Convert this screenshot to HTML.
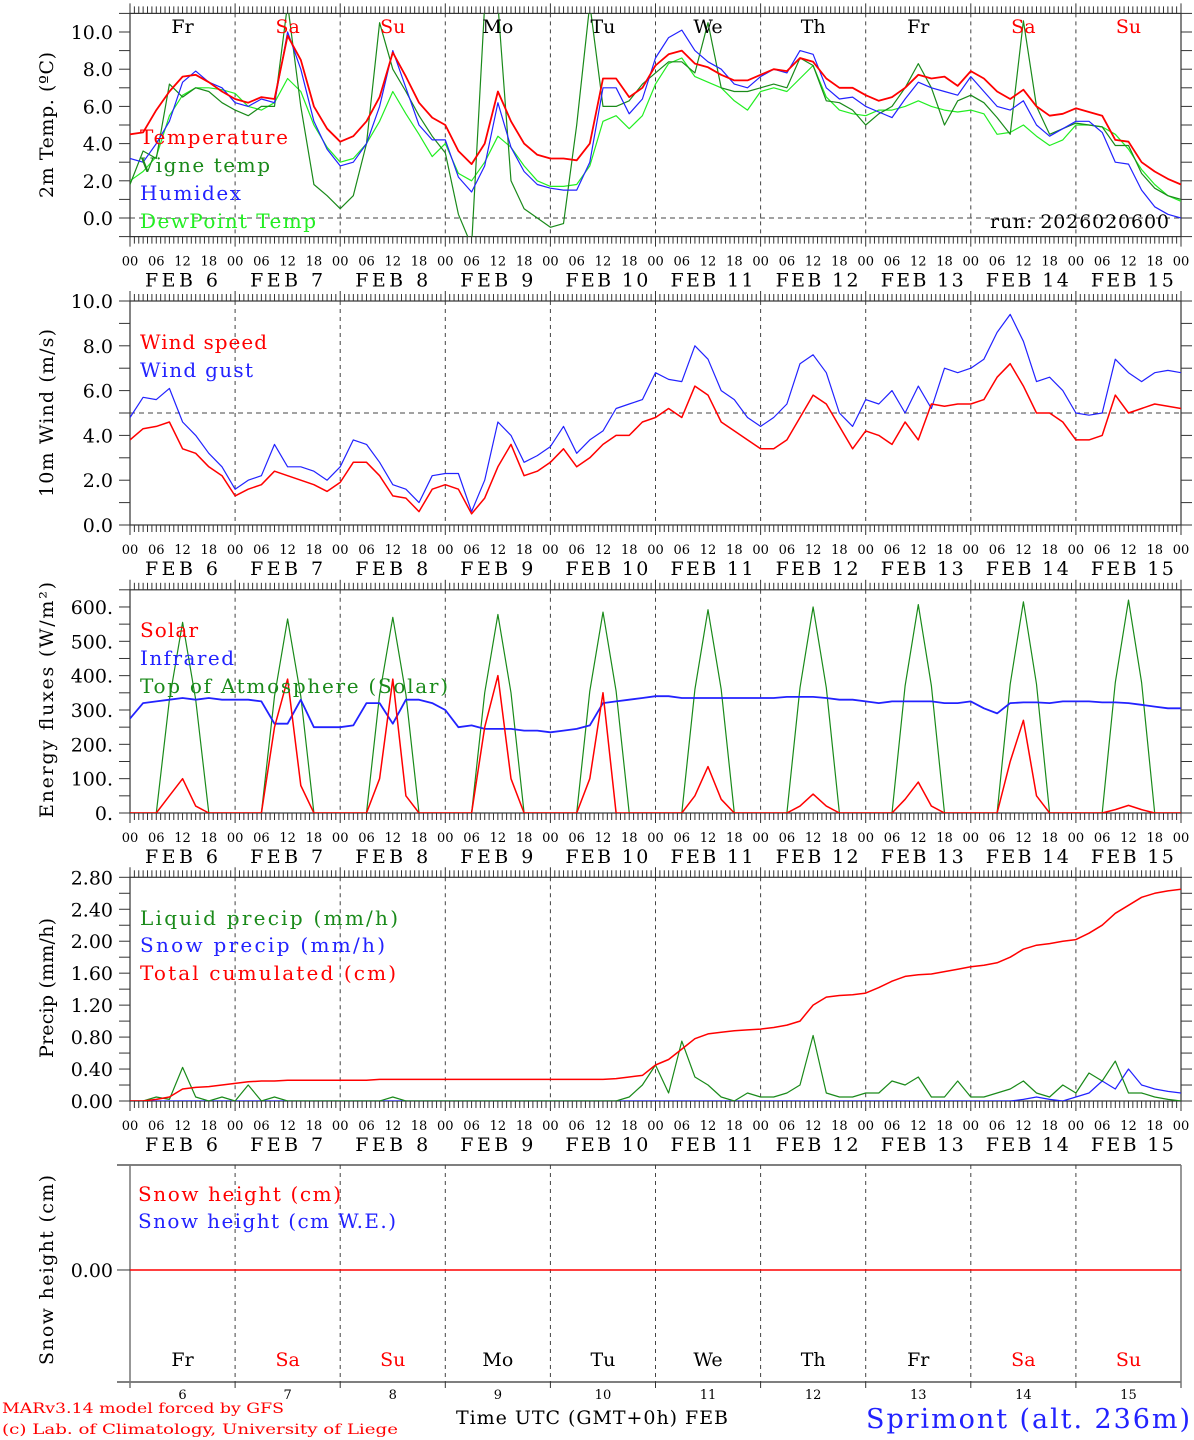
<!DOCTYPE html>
<html><head><meta charset="utf-8"><title>MAR forecast Sprimont</title>
<style>
html,body{margin:0;padding:0;background:#fff;}
svg{display:block;font-family:"DejaVu Serif","Liberation Serif",serif;}
</style></head>
<body>
<svg id="chart" width="1194" height="1440" viewBox="0 0 1194 1440" xmlns="http://www.w3.org/2000/svg">
<rect x="0" y="0" width="1194" height="1440" fill="#fff"/>
<g id="layer"></g>
<text x="990" y="228" font-size="19" textLength="179" lengthAdjust="spacing" fill="#000">run: 2026020600</text>
<text x="2" y="1413" font-size="14" fill="#f00" textLength="282" lengthAdjust="spacingAndGlyphs">MARv3.14 model forced by GFS</text>
<text x="2" y="1434" font-size="14" fill="#f00" textLength="396" lengthAdjust="spacingAndGlyphs">(c) Lab. of Climatology, University of Liege</text>
<text x="456" y="1424" font-size="19" fill="#000" textLength="272" lengthAdjust="spacing">Time UTC (GMT+0h) FEB</text>
<text x="866" y="1428" font-size="27" fill="#22f" textLength="324" lengthAdjust="spacing">Sprimont (alt. 236m)</text>
</svg>
<script>
// ---------- data (3-hourly, 6 Feb 00 UTC -> 16 Feb 00 UTC) ----------
const days = ["6","7","8","9","10","11","12","13","14","15"];
const dayNames = ["Fr","Sa","Su","Mo","Tu","We","Th","Fr","Sa","Su"];
const hourLabels = ["00","06","12","18"];
const tempTicks = [0,2,4,6,8,10];
const windTicks = [0,2,4,6,8,10];
const energyTicks = [0,100,200,300,400,500,600];
const precipTicks = [0,0.4,0.8,1.2,1.6,2.0,2.4,2.8];

const temperature = [4.5,4.6,5.8,6.8,7.6,7.7,7.3,6.8,
6.4,6.2,6.5,6.4,9.8,8.5,6.0,4.8,
4.1,4.4,5.2,6.5,8.9,7.6,6.2,5.4,
5.0,3.6,2.9,4.0,6.8,5.2,4.0,3.4,
3.2,3.2,3.1,4.0,7.5,7.5,6.5,7.0,
8.2,8.8,9.0,8.3,8.1,7.7,7.4,7.4,
7.7,8.0,7.9,8.6,8.4,7.5,7.0,7.0,
6.6,6.3,6.5,7.0,7.7,7.5,7.6,7.1,
7.9,7.5,6.8,6.4,6.9,6.0,5.5,5.6,
5.9,5.7,5.5,4.2,4.1,3.0,2.5,2.1,1.8];
const vigneTemp = [1.8,3.6,3.2,7.2,6.5,7.0,6.8,6.2,
5.8,5.5,6.0,6.0,11.5,6.0,1.8,1.2,
0.5,1.2,4.0,10.5,8.0,6.8,5.5,4.4,
3.5,0.2,-1.5,11.5,11.5,2.0,0.5,0.0,
-0.5,-0.3,5.0,11.5,6.0,6.0,6.3,7.2,
7.8,8.4,8.4,7.8,10.5,7.0,6.8,6.8,
7.0,7.2,7.0,8.6,8.2,6.3,6.2,5.8,
5.0,5.6,6.0,7.0,8.3,7.0,5.0,6.3,
6.6,6.2,5.4,4.5,10.6,6.0,4.5,4.8,
5.1,5.0,4.9,3.9,3.9,2.4,1.6,1.2,1.0];
const humidex = [3.2,3.0,4.0,5.2,7.3,7.9,7.3,7.0,
6.2,6.0,6.4,6.2,10.0,8.0,5.2,3.7,
2.8,3.0,4.0,6.0,9.0,7.0,5.0,4.2,
4.2,2.2,1.4,2.8,6.2,3.8,2.5,1.8,
1.6,1.5,1.5,3.0,7.0,7.0,5.6,6.4,
8.6,9.7,10.1,9.0,8.4,8.0,7.2,7.0,
7.6,8.0,7.8,9.0,8.8,7.0,6.4,6.5,
6.0,5.7,5.4,6.4,7.3,7.0,6.8,6.6,
7.6,6.8,6.0,5.8,6.3,5.0,4.4,4.8,
5.2,5.2,4.6,3.0,2.9,1.5,0.6,0.2,0.0];
const dewPoint = [2.0,2.5,3.3,5.5,6.6,7.0,7.0,6.9,
6.7,6.0,5.8,6.2,7.5,6.8,5.0,3.8,
3.0,3.2,4.0,5.2,6.8,5.6,4.5,3.3,
4.0,2.4,2.0,3.0,4.4,3.8,2.8,2.0,
1.7,1.7,1.8,2.8,5.2,5.5,4.8,5.5,
7.2,8.3,8.6,7.6,7.3,7.0,6.3,5.8,
6.8,7.0,6.8,7.5,8.2,6.5,5.8,5.6,
5.5,5.8,5.8,6.0,6.3,6.0,5.8,5.7,
5.8,5.6,4.5,4.6,5.0,4.4,3.9,4.2,
5.0,5.0,4.9,4.5,3.7,2.6,1.8,1.2,0.9];

const windSpeed = [3.8,4.3,4.4,4.6,3.4,3.2,2.6,2.2,
1.3,1.6,1.8,2.4,2.2,2.0,1.8,1.5,
1.9,2.8,2.8,2.2,1.3,1.2,0.6,1.6,
1.8,1.6,0.5,1.2,2.6,3.6,2.2,2.4,
2.8,3.4,2.6,3.0,3.6,4.0,4.0,4.6,
4.8,5.2,4.8,6.2,5.8,4.6,4.2,3.8,
3.4,3.4,3.8,4.8,5.8,5.4,4.4,3.4,
4.2,4.0,3.6,4.6,3.8,5.4,5.3,5.4,
5.4,5.6,6.6,7.2,6.2,5.0,5.0,4.6,
3.8,3.8,4.0,5.8,5.0,5.2,5.4,5.3,5.2];
const windGust = [4.8,5.7,5.6,6.1,4.6,4.0,3.2,2.6,
1.6,2.0,2.2,3.6,2.6,2.6,2.4,2.0,
2.6,3.8,3.6,2.8,1.8,1.6,1.0,2.2,
2.3,2.3,0.6,2.0,4.6,4.0,2.8,3.1,
3.5,4.4,3.2,3.8,4.2,5.2,5.4,5.6,
6.8,6.5,6.4,8.0,7.4,6.0,5.6,4.8,
4.4,4.8,5.4,7.2,7.6,6.8,5.0,4.4,
5.6,5.4,6.0,5.0,6.2,5.2,7.0,6.8,
7.0,7.4,8.6,9.4,8.2,6.4,6.6,6.0,
5.0,4.9,5.0,7.4,6.8,6.4,6.8,6.9,6.8];

const solar = [0,0,0,50,100,20,0,0,
0,0,0,250,390,80,0,0,
0,0,0,100,390,50,0,0,
0,0,0,250,400,100,0,0,
0,0,0,100,350,0,0,0,
0,0,0,50,135,40,0,0,
0,0,0,20,55,20,0,0,
0,0,0,40,90,20,0,0,
0,0,0,150,270,50,0,0,
0,0,0,10,22,10,0,0,0];
const infrared = [275,320,325,330,335,330,335,330,
330,330,325,260,260,330,250,250,
250,255,320,320,260,330,330,320,
300,250,255,245,245,245,240,240,
235,240,245,255,320,325,330,335,
340,340,335,335,335,335,335,335,
335,335,338,338,338,335,330,330,
325,320,325,325,325,325,320,320,
325,305,290,320,322,322,320,325,
325,325,322,322,320,315,310,305,305];
const toaSolar = [0,0,0,330,555,330,0,0,
0,0,0,340,565,340,0,0,
0,0,0,345,570,345,0,0,
0,0,0,350,578,350,0,0,
0,0,0,355,585,355,0,0,
0,0,0,360,592,360,0,0,
0,0,0,365,600,365,0,0,
0,0,0,370,607,370,0,0,
0,0,0,375,615,375,0,0,
0,0,0,380,620,380,0,0,0];

const liquidPrecip = [0,0,0.05,0.02,0.42,0.05,0,0.05,
0,0.2,0,0.05,0,0,0,0,
0,0,0,0,0.05,0,0,0,
0,0,0,0,0,0,0,0,
0,0,0,0,0,0,0.05,0.2,
0.45,0.1,0.75,0.3,0.2,0.05,0,0.1,
0.05,0.05,0.1,0.2,0.82,0.1,0.05,0.05,
0.1,0.1,0.25,0.2,0.3,0.05,0.05,0.25,
0.05,0.05,0.1,0.15,0.25,0.1,0.05,0.2,
0.1,0.35,0.25,0.5,0.1,0.1,0.05,0.02,0];
const snowPrecip = [0,0,0,0,0,0,0,0,
0,0,0,0,0,0,0,0,
0,0,0,0,0,0,0,0,
0,0,0,0,0,0,0,0,
0,0,0,0,0,0,0,0,
0,0,0,0,0,0,0,0,
0,0,0,0,0,0,0,0,
0,0,0,0,0,0,0,0,
0,0,0,0,0.02,0.05,0.02,0,
0.05,0.1,0.25,0.15,0.4,0.2,0.15,0.12,0.1];
const totalCum = [0,0,0.02,0.05,0.15,0.17,0.18,0.2,
0.22,0.24,0.25,0.25,0.26,0.26,0.26,0.26,
0.26,0.26,0.26,0.27,0.27,0.27,0.27,0.27,
0.27,0.27,0.27,0.27,0.27,0.27,0.27,0.27,
0.27,0.27,0.27,0.27,0.27,0.28,0.3,0.32,
0.45,0.52,0.65,0.78,0.84,0.86,0.88,0.89,
0.9,0.92,0.95,1.0,1.2,1.3,1.32,1.33,
1.35,1.42,1.5,1.56,1.58,1.59,1.62,1.65,
1.68,1.7,1.73,1.8,1.9,1.95,1.97,2.0,
2.02,2.1,2.2,2.35,2.45,2.55,2.6,2.63,2.65];
const snowHeight = [0,0];

// ---------- geometry ----------
const NS = "http://www.w3.org/2000/svg";
const layer = document.getElementById("layer");
const X0 = 130, X1 = 1181, HOURS = 240;
function xOf(h){ return X0 + h * (X1 - X0) / HOURS; }
function mk(tag, attrs, parent){
  const e = document.createElementNS(NS, tag);
  for (const k in attrs) e.setAttribute(k, attrs[k]);
  (parent || layer).appendChild(e);
  return e;
}
function yScale(p){ return v => p.bottom - (v - p.min) * (p.bottom - p.top) / (p.max - p.min); }

const panels = [
  {key:"temp", top:13.4, bottom:236.6, min:-1, max:11},
  {key:"wind", top:301, bottom:525, min:0, max:10},
  {key:"energy", top:589.8, bottom:813, min:0, max:650},
  {key:"precip", top:877.3, bottom:1101, min:0, max:2.8},
  {key:"snow", top:1165, bottom:1382, min:-1.067, max:1}
];
panels.forEach(p => p.y = yScale(p));

const defs = mk("defs", {});
panels.forEach(p => {
  const cp = mk("clipPath", {id:"clip-" + p.key}, defs);
  mk("rect", {x:X0, y:p.top, width:X1 - X0, height:p.bottom - p.top}, cp);
});

function frame(p, hourly){
  const g = mk("g", {});
  
  
  for (let d = 1; d < 10; d++){
    const ln = mk("line", {x1:xOf(d*24), x2:xOf(d*24), y1:p.top, y2:p.bottom, stroke:"#444", "stroke-width":1, "stroke-dasharray":"4,4"}, g);
    
    
  }
  const b = mk("rect", {x:X0, y:p.top, width:X1 - X0, height:p.bottom - p.top, fill:"none", stroke:"#333", "stroke-width":1.2}, g);
  
  
  if (hourly){
    for (let h = 0; h <= HOURS; h++){
      const len = (h % 24 === 0) ? 10 : 7;
      mk("line", {x1:xOf(h), x2:xOf(h), y1:p.top, y2:p.top - len, stroke:"#333", "stroke-width":1}, g);
      mk("line", {x1:xOf(h), x2:xOf(h), y1:p.bottom, y2:p.bottom + len, stroke:"#333", "stroke-width":1}, g);
    }
  }
  return g;
}
function yAxis(p, ticks, minorStep, fmt){
  const g = mk("g", {});
  
  
  for (let v = p.min; v <= p.max + 1e-9; v += minorStep){
    const y = p.y(v);
    if (y < p.top - 0.5) continue;
    mk("line", {x1:X0 - 11, x2:X0, y1:y, y2:y, stroke:"#333", "stroke-width":1}, g);
    mk("line", {x1:X1, x2:X1 + 11, y1:y, y2:y, stroke:"#333", "stroke-width":1}, g);
  }
  ticks.forEach(v => {
    const t = mk("text", {x:113, y:p.y(v) + 7, "font-size":19, "text-anchor":"end", fill:"#000"}, g);
    t.textContent = fmt(v);
    
    
  });
}
function timeLabels(p){
  const g = mk("g", {});
  
  
  for (let d = 0; d < 10; d++){
    hourLabels.forEach((lab, i) => {
      const t = mk("text", {x:xOf(d*24 + i*6), y:p.bottom + 29, "font-size":13, "text-anchor":"middle", fill:"#000"}, g);
      t.textContent = lab;
      
      
    });
    const f = mk("text", {x:xOf(d*24) + 15, y:p.bottom + 50, "font-size":19, fill:"#000", textLength:(days[d].length > 1 ? 83 : 73), lengthAdjust:"spacing"}, g);
    f.textContent = "FEB  " + days[d];
    
    
  }
  const e = mk("text", {x:X1, y:p.bottom + 29, "font-size":13, "text-anchor":"middle", fill:"#000"}, g);
  e.textContent = "00";
  
  
}
function series(p, vals, color, width, name){
  const pts = vals.map((v, i) => xOf(i*3).toFixed(1) + "," + p.y(v).toFixed(1)).join(" ");
  const pl = mk("polyline", {points:pts, fill:"none", stroke:color, "stroke-width":width, "stroke-linejoin":"round", "clip-path":"url(#clip-" + p.key + ")"});
  
  
}
function legend(x, y, txt, color, len, name){
  const t = mk("text", {x:x, y:y, "font-size":20, fill:color, textLength:len, lengthAdjust:"spacing"});
  t.textContent = txt;
  
  
}
function yTitle(cy, txt, len, name){
  const t = mk("text", {x:0, y:0, "font-size":19, fill:"#000", "text-anchor":"middle", transform:"translate(53," + cy + ") rotate(-90)", textLength:len, lengthAdjust:"spacing"});
  t.textContent = txt;
  
  
}
function hline(p, v, name){
  const l = mk("line", {x1:X0, x2:X1, y1:p.y(v), y2:p.y(v), stroke:"#444", "stroke-width":1, "stroke-dasharray":"5,4"});
  
  
}

// ---------- panel 1: temperature ----------
const P1 = panels[0];
frame(P1, true);
yAxis(P1, tempTicks, 1, v => v.toFixed(1));
timeLabels(P1);
hline(P1, 0, 'zero-degree-line');
series(P1, dewPoint, "#2e2", 1.2, 'dewpoint-line');
series(P1, vigneTemp, "#1a8a1a", 1.2, 'vigne-temp-line');
series(P1, humidex, "#22f", 1.2, 'humidex-line');
series(P1, temperature, "#f00", 1.8, 'temperature-line');
for (let d = 0; d < 10; d++){
  const t = mk("text", {x:xOf(d*24 + 12), y:33, "font-size":19, "text-anchor":"middle", fill:(dayNames[d] === "Sa" || dayNames[d] === "Su") ? "#f00" : "#000"});
  t.textContent = dayNames[d];
  
  
}
legend(140, 144, "Temperature", "#f00", 148, 'legend-temperature');
legend(140, 172, "Vigne temp", "#1a8a1a", 130, 'legend-vigne-temp');
legend(140, 200, "Humidex", "#22f", 101, 'legend-humidex');
legend(140, 228, "DewPoint Temp", "#2e2", 176, 'legend-dewpoint');
yTitle(125, "2m Temp. (ºC)", 146, 'temp-y-axis-title');

// ---------- panel 2: wind ----------
const P2 = panels[1];
frame(P2, true);
yAxis(P2, windTicks, 1, v => v.toFixed(1));
timeLabels(P2);
hline(P2, 5, 'wind-5ms-line');
series(P2, windGust, "#22f", 1.2, 'wind-gust-line');
series(P2, windSpeed, "#f00", 1.5, 'wind-speed-line');
legend(140, 349, "Wind speed", "#f00", 127, 'legend-wind-speed');
legend(140, 377, "Wind gust", "#22f", 113, 'legend-wind-gust');
yTitle(413, "10m Wind (m/s)", 168, 'wind-y-axis-title');

// ---------- panel 3: energy ----------
const P3 = panels[2];
frame(P3, true);
yAxis(P3, energyTicks, 50, v => v + ".");
timeLabels(P3);
series(P3, toaSolar, "#1a8a1a", 1.2, 'toa-solar-line');
series(P3, infrared, "#22f", 1.8, 'infrared-line');
series(P3, solar, "#f00", 1.5, 'solar-line');
legend(140, 637, "Solar", "#f00", 58, 'legend-solar');
legend(140, 665, "Infrared", "#22f", 94, 'legend-infrared');
legend(140, 693, "Top of Atmosphere (Solar)", "#1a8a1a", 308, 'legend-toa');
yTitle(700, "Energy fluxes (W/m²)", 236, 'energy-y-axis-title');

// ---------- panel 4: precip ----------
const P4 = panels[3];
frame(P4, true);
yAxis(P4, precipTicks, 0.2, v => v.toFixed(2));
timeLabels(P4);
series(P4, snowPrecip, "#22f", 1.2, 'snow-precip-line');
series(P4, liquidPrecip, "#1a8a1a", 1.2, 'liquid-precip-line');
series(P4, totalCum, "#f00", 1.5, 'total-cumulated-line');
legend(140, 925, "Liquid precip (mm/h)", "#1a8a1a", 258, 'legend-liquid-precip');
legend(140, 952, "Snow precip (mm/h)", "#22f", 245, 'legend-snow-precip');
legend(140, 980, "Total cumulated (cm)", "#f00", 256, 'legend-total-cumulated');
yTitle(988, "Precip (mm/h)", 140, 'precip-y-axis-title');

// ---------- panel 5: snow height ----------
const P5 = panels[4];
{
  const g = mk("g", {});
  
  
  for (let d = 1; d < 10; d++){
    const ln = mk("line", {x1:xOf(d*24), x2:xOf(d*24), y1:P5.top, y2:P5.bottom, stroke:"#444", "stroke-width":1, "stroke-dasharray":"4,4"}, g);
    
    
  }
  mk("line", {x1:117, x2:X1, y1:P5.top, y2:P5.top, stroke:"#333", "stroke-width":1.2}, g);
  mk("line", {x1:117, x2:X1, y1:P5.bottom, y2:P5.bottom, stroke:"#333", "stroke-width":1.2}, g);
  mk("line", {x1:X0, x2:X0, y1:P5.top, y2:P5.bottom + 6, stroke:"#777", "stroke-width":1.5}, g);
  mk("line", {x1:X1, x2:X1, y1:P5.top, y2:P5.bottom + 6, stroke:"#777", "stroke-width":1.5}, g);
  for (let d = 1; d < 10; d++) mk("line", {x1:xOf(d*24), x2:xOf(d*24), y1:P5.bottom, y2:P5.bottom + 6, stroke:"#333", "stroke-width":1}, g);
  mk("line", {x1:117, x2:X0, y1:P5.y(0), y2:P5.y(0), stroke:"#333", "stroke-width":1}, g);
  const t = mk("text", {x:113, y:P5.y(0) + 7, "font-size":19, "text-anchor":"end", fill:"#000"}, g);
  t.textContent = "0.00";
  
  
}
{
  const pl = mk("line", {x1:xOf(0), x2:xOf(HOURS), y1:P5.y(snowHeight[0]), y2:P5.y(snowHeight[1]), stroke:"#f00", "stroke-width":1.5});
  
  
}
for (let d = 0; d < 10; d++){
  const t = mk("text", {x:xOf(d*24 + 12), y:1366, "font-size":19, "text-anchor":"middle", fill:(dayNames[d] === "Sa" || dayNames[d] === "Su") ? "#f00" : "#000"});
  t.textContent = dayNames[d];
  
  
  const n = mk("text", {x:xOf(d*24 + 12), y:1399, "font-size":13, "text-anchor":"middle", fill:"#000"});
  n.textContent = days[d];
  
  
}
legend(138, 1201, "Snow height (cm)", "#f00", 203, 'legend-snow-height');
legend(138, 1228, "Snow height (cm W.E.)", "#22f", 258, 'legend-snow-height-we');
yTitle(1270, "Snow height (cm)", 190, 'snow-y-axis-title');
</script>
</body></html>
